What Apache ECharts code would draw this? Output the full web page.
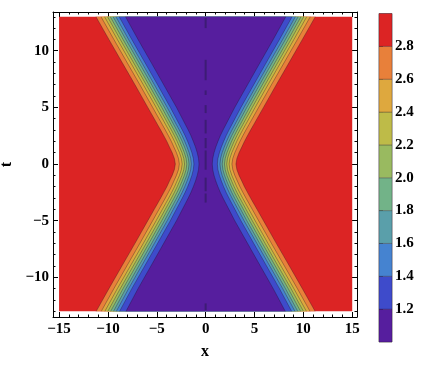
<!DOCTYPE html>
<html>
<head>
<meta charset="utf-8">
<script src="https://cdn.jsdelivr.net/npm/echarts@6/dist/echarts.min.js"></script>
<style>
  html, body { margin: 0; padding: 0; background: #fff; }
  #main { width: 425px; height: 372px; }
</style>
</head>
<body>
<div id="main"></div>
<script>
// plot range of the field
var xRange = [-15, 15];
var tRange = [-13, 13];

// rows: t, |x| of the 2.8 contour, |x| of the 1.2 contour
var tRows     = [13, 11, 9, 7, 5, 4, 3.5, 3, 2.5, 2, 1.5, 1, 0.5, 0, -0.5, -1, -1.5, -2, -2.5, -3, -3.5, -4, -5, -7, -9, -11, -13];
var outerEdge = [11.22, 9.9, 8.57, 7.23, 5.92, 5.26, 4.93, 4.6, 4.28, 3.97, 3.7, 3.42, 3.2, 3.1, 3.2, 3.42, 3.7, 3.97, 4.28, 4.6, 4.93, 5.26, 5.92, 7.23, 8.57, 9.9, 11.2];
var innerEdge = [8.2, 6.92, 5.6, 4.29, 2.98, 2.38, 2.08, 1.78, 1.5, 1.26, 1.04, 0.86, 0.73, 0.68, 0.73, 0.86, 1.04, 1.26, 1.5, 1.78, 2.08, 2.38, 2.98, 4.29, 5.6, 6.92, 8.15];

// contour levels (outer to inner) and where each sits across the band (0 = 2.8 line, 1 = 1.2 line)
var levels    = [2.8, 2.6, 2.4, 2.2, 2.0, 1.8, 1.6, 1.4, 1.2];
var levelFrac = [0, 0.17, 0.29, 0.39, 0.485, 0.58, 0.675, 0.785, 1];

// band colours, from the 2.8-3.0 band down to 1.0-1.2
var bandColors = ['#dc2424', '#e8803a', '#dea83e', '#bebb48', '#99ba60', '#72b388', '#5a9faa', '#4583d0', '#3e4bcb', '#561e9e'];

// dark dashes along x = 0 (t from, t to)
var centerDash = [[12.9, 12.0], [9.2, 7.4], [6.5, 6.1], [5.2, 4.5], [3.9, 2.7], [2.3, 1.4], [1.2, -0.5], [-1.2, -2.4], [-2.6, -3.4], [-12.3, -12.9]];

// ticks
var xMajor = [-15, -10, -5, 0, 5, 10, 15];
var tMajor = [-10, -5, 0, 5, 10];
var cbTicks = [1.2, 1.4, 1.6, 1.8, 2.0, 2.2, 2.4, 2.6, 2.8];
var cbEdges = [1.0, 1.2, 1.4, 1.6, 1.8, 2.0, 2.2, 2.4, 2.6, 2.8, 3.0];

var xMinor = [], tMinor = [];
for (var i = -15; i <= 15; i++) { if (i % 5 !== 0) xMinor.push(i); }
for (var i = -13; i <= 13; i++) { if (i % 5 !== 0) tMinor.push(i); }

var chart = echarts.init(document.getElementById('main'));

var FONT = 'Liberation Serif';
var labelStyle = { color: '#000', fontFamily: FONT, fontWeight: 'bold', fontSize: 15 };
function minus(v) { return String(v).replace('-', '\u2212'); }

var X_MIN = -15.62, X_MAX = 15.49, T_MIN = -13.5, T_MAX = 13.42;

function xAxisOf(pos, ticks, len, showLine, showLabel, extra) {
  return Object.assign({
    gridIndex: 0, type: 'value', min: X_MIN, max: X_MAX, position: pos,
    axisLine: { show: showLine, onZero: false, lineStyle: { color: '#000', width: 1 } },
    axisTick: { show: true, inside: true, length: len, customValues: ticks, lineStyle: { color: '#000', width: 1 } },
    axisLabel: Object.assign({ show: showLabel, customValues: ticks, formatter: minus, margin: 5 }, labelStyle),
    splitLine: { show: false }
  }, extra || {});
}
function yAxisOf(pos, ticks, len, showLine, showLabel, extra) {
  return Object.assign({
    gridIndex: 0, type: 'value', min: T_MIN, max: T_MAX, position: pos,
    axisLine: { show: showLine, onZero: false, lineStyle: { color: '#000', width: 1 } },
    axisTick: { show: true, inside: true, length: len, customValues: ticks, lineStyle: { color: '#000', width: 1 } },
    axisLabel: Object.assign({ show: showLabel, customValues: ticks, formatter: minus, margin: 4 }, labelStyle),
    splitLine: { show: false }
  }, extra || {});
}

function edgeAt(k, j) {
  return outerEdge[j] + levelFrac[k] * (innerEdge[j] - outerEdge[j]);
}

function renderField(params, api) {
  var i = params.dataIndex;
  if (i === 0) {
    var a = api.coord([xRange[0], tRange[1]]);
    var b = api.coord([xRange[1], tRange[0]]);
    return { type: 'rect', z2: 0, shape: { x: a[0], y: a[1], width: b[0] - a[0], height: b[1] - a[1] }, style: { fill: bandColors[0] } };
  }
  var k = i - 1;
  var left = [], right = [];
  for (var j = 0; j < tRows.length; j++) {
    var e = edgeAt(k, j);
    left.push(api.coord([-e, tRows[j]]));
    right.push(api.coord([e, tRows[j]]));
  }
  var poly = left.concat(right.slice().reverse());
  var lineStyle = { fill: null, stroke: 'rgba(30,10,30,0.4)', lineWidth: 0.8 };
  return {
    type: 'group',
    children: [
      { type: 'polygon', z2: i * 2, shape: { points: poly }, style: { fill: bandColors[i] } },
      { type: 'polyline', z2: i * 2 + 1, shape: { points: left }, style: lineStyle },
      { type: 'polyline', z2: i * 2 + 1, shape: { points: right }, style: lineStyle }
    ]
  };
}

function renderDash(params, api) {
  var p1 = api.coord([0, api.value(0)]);
  var p2 = api.coord([0, api.value(1)]);
  return { type: 'line', z2: 50, shape: { x1: p1[0], y1: p1[1], x2: p2[0], y2: p2[1] }, style: { stroke: '#3d1c74', lineWidth: 2 } };
}

function renderBar(params, api) {
  var i = params.dataIndex;
  var a = api.coord([0, cbEdges[i + 1]]);
  var b = api.coord([1, cbEdges[i]]);
  return { type: 'rect', shape: { x: a[0], y: a[1], width: b[0] - a[0], height: b[1] - a[1] },
    style: { fill: bandColors[bandColors.length - 1 - i], stroke: 'rgba(30,10,30,0.35)', lineWidth: 0.8 } };
}

var fieldItems = bandColors.map(function (c, i) { return [i]; });
var barItems = cbEdges.slice(1).map(function (v, i) { return [i]; });

var option = {
  animation: false,
  backgroundColor: '#fff',
  grid: [
    { left: 53, right: 68, top: 12, bottom: 55, outerBoundsMode: 'none', containLabel: false },
    { left: 379, right: 33, top: 13.5, bottom: 30, outerBoundsMode: 'none', containLabel: false,
      show: true, borderColor: '#9a9a9a', borderWidth: 1, backgroundColor: 'transparent' }
  ],
  xAxis: [
    xAxisOf('bottom', xMajor, 5, true, true, {
      name: 'x', nameLocation: 'middle', nameGap: 27,
      nameTextStyle: { color: '#000', fontFamily: FONT, fontWeight: 'bold', fontSize: 16 }
    }),
    xAxisOf('bottom', xMinor, 2.5, false, false),
    xAxisOf('top', xMajor, 5, true, false),
    xAxisOf('top', xMinor, 2.5, false, false),
    { gridIndex: 1, type: 'value', min: 0, max: 1, show: false }
  ],
  yAxis: [
    yAxisOf('left', tMajor, 5, true, true, {
      name: 't', nameLocation: 'middle', nameGap: 33, nameRotate: 90,
      nameTextStyle: { color: '#000', fontFamily: FONT, fontWeight: 'bold', fontSize: 16 }
    }),
    yAxisOf('left', tMinor, 2.5, false, false),
    yAxisOf('right', tMajor, 5, true, false),
    yAxisOf('right', tMinor, 2.5, false, false),
    {
      gridIndex: 1, type: 'value', min: 1, max: 3, position: 'right',
      axisLine: { show: false },
      axisTick: { show: true, inside: false, length: 4, customValues: cbTicks, lineStyle: { color: '#444', width: 1 } },
      axisLabel: Object.assign({ customValues: cbTicks, margin: 3, formatter: function (v) { return v.toFixed(1); } }, labelStyle),
      splitLine: { show: false }
    }
  ],
  series: [
    { type: 'custom', xAxisIndex: 0, yAxisIndex: 0, renderItem: renderField, data: fieldItems, silent: true },
    { type: 'custom', xAxisIndex: 0, yAxisIndex: 0, renderItem: renderDash, data: centerDash, silent: true, z: 3 },
    { type: 'custom', xAxisIndex: 4, yAxisIndex: 4, renderItem: renderBar, data: barItems, silent: true }
  ]
};

chart.setOption(option);
</script>
</body>
</html>
